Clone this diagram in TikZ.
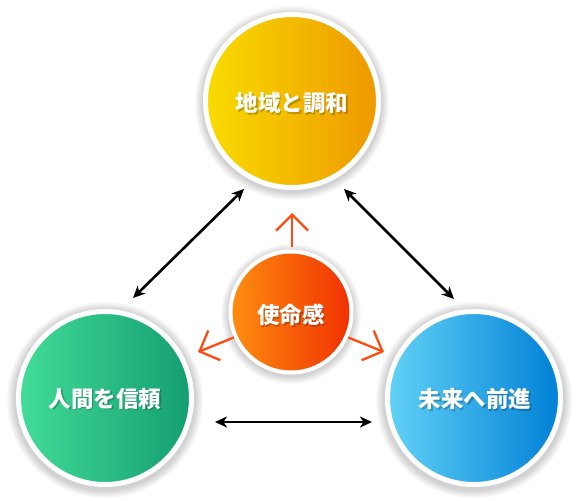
\documentclass[tikz,border=0pt]{standalone}
\usepackage{fontspec}
\newfontfamily\jp{Noto Sans CJK JP}
\usetikzlibrary{arrows.meta}
\definecolor{yelL}{RGB}{249,220,0}
\definecolor{yelR}{RGB}{238,152,0}
\definecolor{orgL}{RGB}{255,142,16}
\definecolor{orgR}{RGB}{240,48,0}
\definecolor{grnL}{RGB}{66,220,152}
\definecolor{grnR}{RGB}{20,158,112}
\definecolor{bluL}{RGB}{98,210,246}
\definecolor{bluR}{RGB}{0,128,214}
\definecolor{arrOrg}{RGB}{255,74,16}
\begin{document}
\begin{tikzpicture}[x=1pt,y=-1pt,
  bigc/.style={circle, inner sep=0pt, minimum size=173pt, draw=white, line width=5pt},
  midc/.style={circle, inner sep=0pt, minimum size=121pt, draw=white, line width=4pt},
  lbl/.style={text=white, font=\jp\bfseries\fontsize{22.5}{22.5}\selectfont, inner sep=0pt},
  lblsh/.style={text=black, opacity=0.22, font=\jp\bfseries\fontsize{22.5}{22.5}\selectfont, inner sep=0pt},
  dbl/.style={line width=2.6pt, {Stealth[length=12pt,width=11pt,inset=3.5pt]}-{Stealth[length=12pt,width=11pt,inset=3.5pt]}},
  org/.style={line width=2.3pt, draw=arrOrg, -{Straight Barb[length=16pt,width=32pt,line width=2.3pt]}}
]
\useasboundingbox (0,0) rectangle (580,500);
\fill[white] (0,0) rectangle (580,500);
% soft shadows
\foreach \cx/\cy/\r in {292/101/89, 105/398/90, 474/398/90, 291/312/62}{
  \foreach \k in {1,...,9}{
    \fill[black, opacity=0.018] (\cx,\cy+2) circle ({(\r+\k*0.9)*1pt});
  }
}
% circles
\node[bigc, left color=yelL, right color=yelR] (top) at (292,101) {};
\node[bigc, left color=grnL, right color=grnR] (left) at (105,398) {};
\node[bigc, left color=bluL, right color=bluR] (right) at (474,398) {};
\node[midc, left color=orgL, right color=orgR] (mid) at (291,312) {};
% labels
\node[lblsh] (topS) at (293.5,104.5) {地域と調和};
\node[lbl] (topT) at (292,103) {地域と調和};
\node[lblsh] (leftS) at (106.5,400.5) {人間を信頼};
\node[lbl] (leftT) at (105,399) {人間を信頼};
\node[lblsh] (rightS) at (476.5,400.5) {未来へ前進};
\node[lbl] (rightT) at (475,399) {未来へ前進};
\node[lblsh] (midS) at (292.5,316.5) {使命感};
\node[lbl] (midT) at (291,315) {使命感};
% black double arrows
\coordinate (tlA) at (244,189);
\coordinate (tlB) at (133,298);
\coordinate (trA) at (344,189);
\coordinate (trB) at (454,299);
\coordinate (bA) at (215,422);
\coordinate (bB) at (372,422);
\draw[dbl] (tlA) -- (tlB);
\draw[dbl] (trA) -- (trB);
\draw[dbl] (bA) -- (bB);
% orange arrows
\coordinate (oU) at (292,213);
\coordinate (oL) at (198,352);
\coordinate (oR) at (384,352);
\draw[org] (mid.north) ++(1,-3) -- (oU);
\draw[org] (mid.204) -- (oL);
\draw[org] (mid.336) -- (oR);
\end{tikzpicture}
\end{document}
